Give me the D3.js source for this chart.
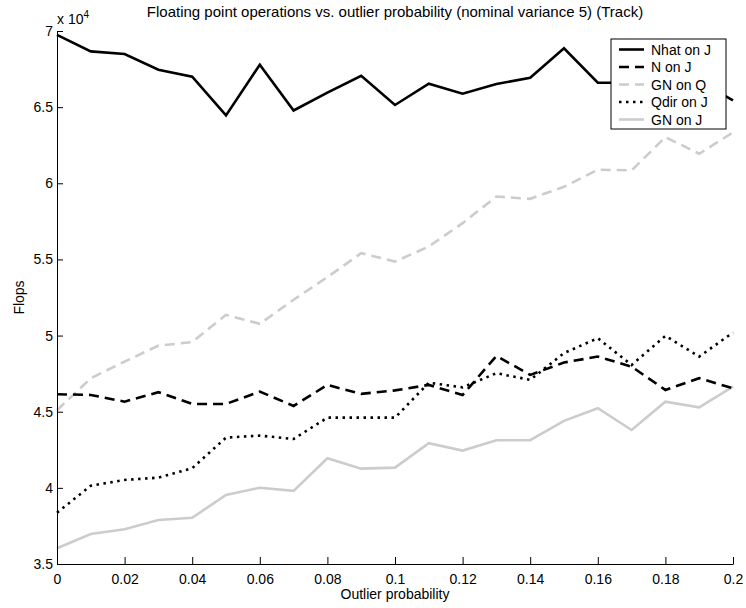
<!DOCTYPE html>
<html><head><meta charset="utf-8">
<script src="https://cdn.jsdelivr.net/npm/d3@7"></script>
<style>body{margin:0;background:#fff}svg{display:block}text{font-family:"Liberation Sans",Arial,Helvetica,sans-serif}</style>
</head><body><div id="chart"></div>
<script>
const outlierProb = [0,0.01,0.02,0.03,0.04,0.05,0.06,0.07,0.08,0.09,0.10,0.11,0.12,0.13,0.14,0.15,0.16,0.17,0.18,0.19,0.20];
const nhatOnJ = [6.975,6.866,6.849,6.746,6.70,6.446,6.779,6.478,6.595,6.706,6.514,6.654,6.588,6.652,6.693,6.886,6.66,6.66,6.70,6.67,6.545];
const nOnJ    = [4.615,4.61,4.566,4.628,4.551,4.551,4.632,4.538,4.676,4.617,4.64,4.676,4.61,4.866,4.742,4.823,4.862,4.796,4.643,4.72,4.654];
const gnOnQ   = [4.51,4.72,4.829,4.934,4.957,5.136,5.077,5.235,5.384,5.541,5.486,5.585,5.738,5.913,5.898,5.977,6.089,6.085,6.303,6.194,6.334];
const qdirOnJ = [3.837,4.014,4.052,4.067,4.129,4.33,4.343,4.321,4.461,4.461,4.461,4.69,4.66,4.753,4.709,4.885,4.983,4.807,4.998,4.862,5.02];
const gnOnJ   = [3.603,3.697,3.728,3.789,3.804,3.953,4.001,3.98,4.194,4.126,4.133,4.293,4.245,4.313,4.313,4.44,4.523,4.38,4.566,4.529,4.665];
const xTicks = [0,0.02,0.04,0.06,0.08,0.1,0.12,0.14,0.16,0.18,0.2];
const xTickLabels = ["0","0.02","0.04","0.06","0.08","0.1","0.12","0.14","0.16","0.18","0.2"];
const yTicks = [3.5,4,4.5,5,5.5,6,6.5,7];
const yTickLabels = ["3.5","4","4.5","5","5.5","6","6.5","7"];
const seriesNames = ["Nhat on J","N on J","GN on Q","Qdir on J","GN on J"];

const W = 746, H = 608;
const m = {left:57, right:13, top:31, bottom:44};
const FS = 14;
const svg = d3.select("#chart").append("svg").attr("width",W).attr("height",H);
const x = d3.scaleLinear().domain([0,0.2]).range([m.left, W-m.right]);
const y = d3.scaleLinear().domain([3.5,7]).range([H-m.bottom, m.top]);

const series = [
  {name:seriesNames[0], data:nhatOnJ, color:"#000", dash:null},
  {name:seriesNames[1], data:nOnJ, color:"#000", dash:"10,6"},
  {name:seriesNames[2], data:gnOnQ, color:"#cccccc", dash:"10,6"},
  {name:seriesNames[3], data:qdirOnJ, color:"#000", dash:"2.5,4.5"},
  {name:seriesNames[4], data:gnOnJ, color:"#cccccc", dash:null}
];

const line = d3.line().x((d,i)=>x(outlierProb[i])).y(d=>y(d));
const drawOrder = [4,2,3,1,0];
drawOrder.forEach(k=>{
  const s = series[k];
  svg.append("path").datum(s.data).attr("d",line).attr("fill","none")
    .attr("stroke",s.color).attr("stroke-width",2.6)
    .attr("stroke-dasharray",s.dash).attr("stroke-linejoin","miter");
});

const xAxis = d3.axisBottom(x).tickValues(xTicks).tickFormat((d,i)=>xTickLabels[i]).tickSizeInner(-7).tickSizeOuter(0).tickPadding(10);
const gx = svg.append("g").attr("transform",`translate(0,${H-m.bottom})`).call(xAxis);
const yAxis = d3.axisLeft(y).tickValues(yTicks).tickFormat((d,i)=>yTickLabels[i]).tickSizeInner(-6).tickSizeOuter(0).tickPadding(4);
const gy = svg.append("g").attr("transform",`translate(${m.left},0)`).call(yAxis);
[gx,gy].forEach(g=>{
  g.selectAll("text").attr("font-size",FS).attr("fill","#000").attr("font-family","Liberation Sans, Arial, sans-serif");
  g.selectAll("line,path").attr("stroke","#000").attr("stroke-width",1);
});
gx.selectAll("text").attr("dy","0.71em");

const mult = svg.append("text").attr("x",m.left).attr("y",24).attr("font-size",FS);
mult.append("tspan").text("x 10");
mult.append("tspan").text("4").attr("font-size",10).attr("dy",-6);

svg.append("text").attr("x",(m.left+W-m.right)/2).attr("y",17).attr("text-anchor","middle")
  .attr("font-size",15).text("Floating point operations vs. outlier probability (nominal variance 5) (Track)");
svg.append("text").attr("x",(m.left+W-m.right)/2).attr("y",599).attr("text-anchor","middle")
  .attr("font-size",FS).text("Outlier probability");
svg.append("text").attr("transform",`translate(24,${(m.top+H-m.bottom)/2}) rotate(-90)`).attr("text-anchor","middle")
  .attr("font-size",FS).text("Flops");

const lg = svg.append("g");
lg.append("rect").attr("x",611).attr("y",39).attr("width",115).attr("height",90)
  .attr("fill","#fff").attr("stroke","#000").attr("stroke-width",1);
series.forEach((s,i)=>{
  const yy = 49.5 + i*17.5;
  lg.append("line").attr("x1",619).attr("x2",644).attr("y1",yy).attr("y2",yy)
    .attr("stroke",s.color).attr("stroke-width",2.6).attr("stroke-dasharray",s.dash);
  lg.append("text").attr("x",651).attr("y",yy).attr("dy","0.36em").attr("font-size",FS).text(s.name);
});
</script></body></html>
